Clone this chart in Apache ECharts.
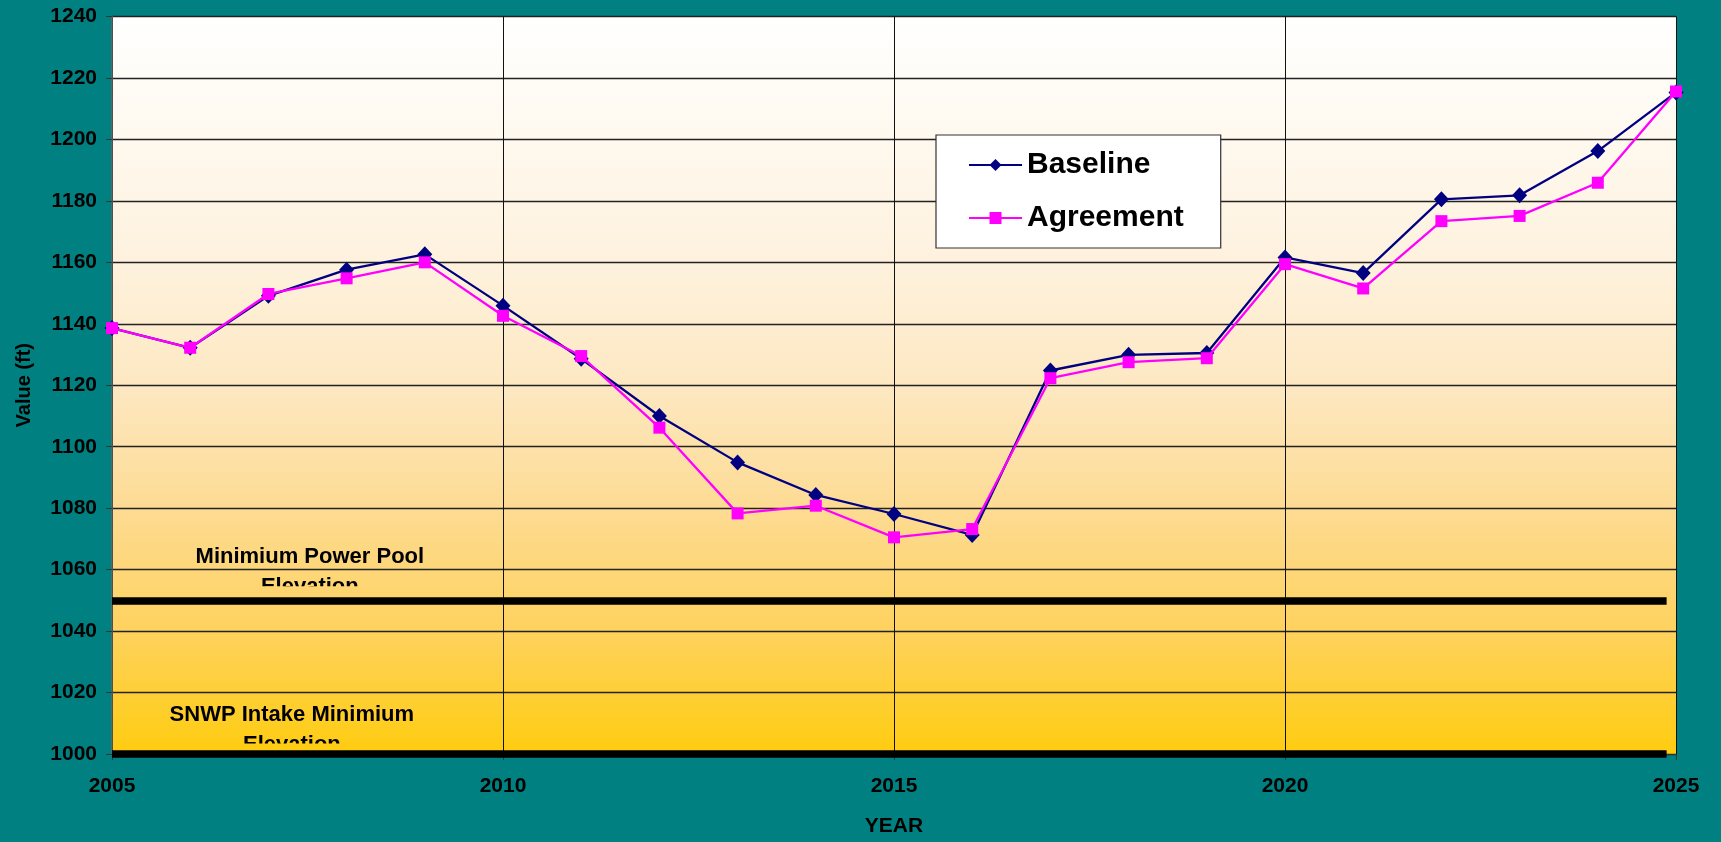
<!DOCTYPE html>
<html>
<head>
<meta charset="utf-8">
<script src="https://cdn.jsdelivr.net/npm/echarts@6/dist/echarts.min.js"></script>
<style>
html,body{margin:0;padding:0;background:#008080;}
#c{width:1721px;height:842px;}
</style>
</head>
<body>
<div id="c"></div>
<script>
var years = [2005,2006,2007,2008,2009,2010,2011,2012,2013,2014,2015,2016,2017,2018,2019,2020,2021,2022,2023,2024,2025];
var baseline = [1138.6,1132.2,1149.1,1157.6,1162.6,1145.9,1128.6,1110.0,1094.9,1084.3,1078.1,1071.3,1124.8,1129.9,1130.5,1161.6,1156.5,1180.5,1181.8,1196.2,1215.3];
var agreement = [1138.6,1132.2,1149.7,1154.8,1160.0,1142.6,1129.5,1106.2,1078.3,1080.8,1070.5,1073.2,1122.3,1127.5,1128.8,1159.4,1151.5,1173.4,1175.1,1185.9,1215.6];
var seriesNames = ['Baseline','Agreement'];
var minPowerPool = 1050;
var snwpIntakeMin = 1000;
var noteTexts = ['Minimium Power Pool\nElevation','SNWP Intake Minimium\nElevation'];
var xTicks = {min:2005, max:2025, step:5};
var yTicks = {min:1000, max:1240, step:20};

function pairs(xs, ys){ return xs.map(function(x,i){ return [x, ys[i]]; }); }
function plain(v){ return String(v); }

var FONT = '"Liberation Sans", Arial, Helvetica, sans-serif';
var chart = echarts.init(document.getElementById('c'));
chart.setOption({
  backgroundColor:'#008080',
  animation:false,
  textStyle:{fontFamily:FONT},
  grid:{left:112, right:45, top:16.5, bottom:86, show:true, borderWidth:0,
    backgroundColor:{type:'linear',x:0,y:0,x2:0,y2:1,colorStops:[
      {offset:0,color:'#ffffff'},{offset:0.33,color:'#fef2de'},{offset:0.5,color:'#fde8c2'},
      {offset:0.667,color:'#fddb93'},{offset:0.833,color:'#fed25e'},{offset:1,color:'#ffcc0f'}]}},
  legend:{
    data:seriesNames, orient:'vertical', left:936, top:135,
    padding:[14,37,14,32], itemGap:21, itemWidth:53, itemHeight:15, itemTextGap:11,
    backgroundColor:'#ffffff', borderColor:'#333333', borderWidth:1.2,
    textStyle:{fontSize:30, fontWeight:'bold', color:'#000', lineHeight:32, fontFamily:FONT}
  },
  xAxis:{
    type:'value', min:xTicks.min, max:xTicks.max, interval:xTicks.step,
    name:'YEAR', nameLocation:'middle', nameGap:62,
    nameTextStyle:{fontSize:21, fontWeight:'bold', color:'#000', fontFamily:FONT},
    axisLine:{show:true, lineStyle:{color:'#333', width:1}},
    axisTick:{show:true, length:6, lineStyle:{color:'#333'}},
    axisLabel:{fontSize:21, fontWeight:'bold', color:'#000', margin:22, fontFamily:FONT, formatter:plain},
    splitLine:{show:true, lineStyle:{color:'#111111', width:1}}
  },
  yAxis:{
    type:'value', min:yTicks.min, max:yTicks.max, interval:yTicks.step,
    name:'Value (ft)', nameLocation:'middle', nameGap:78, nameRotate:90,
    nameTextStyle:{fontSize:20, fontWeight:'bold', color:'#000', fontFamily:FONT},
    axisLine:{show:true, lineStyle:{color:'#666', width:1.5}},
    axisTick:{show:true, length:6, lineStyle:{color:'#333'}},
    axisLabel:{fontSize:21, fontWeight:'bold', color:'#000', margin:15, fontFamily:FONT, formatter:plain},
    splitLine:{show:true, lineStyle:{color:'#222222', width:1.3}}
  },
  series:[
    {
      type:'custom', name:'notes', silent:true, z:1,
      coordinateSystem:'cartesian2d',
      data:[[2007.53, 1069.1, 1054.6],[2007.30, 1017.5, 1003.4]],
      renderItem:function(params, api){
        var p = api.coord([api.value(0), api.value(1)]);
        var c = api.coord([api.value(0), api.value(2)]);
        return {
          type:'text', x:p[0], y:p[1],
          style:{text:noteTexts[params.dataIndex], fill:'#000',
            font:'bold 22px '+FONT, align:'center', verticalAlign:'top', lineHeight:30},
          clipPath:{type:'rect', shape:{x:-400, y:-10, width:800, height:c[1]-p[1]+10}}
        };
      }
    },
    {
      type:'line', name:seriesNames[0], data:pairs(years, baseline), z:3, clip:false,
      symbol:'diamond', symbolSize:[15,16], showSymbol:true,
      lineStyle:{color:'#000080', width:2.3}, itemStyle:{color:'#000080'},
      markLine:{silent:true, symbol:'none', label:{show:false},
        lineStyle:{color:'#000', width:7.5, type:'solid'},
        data:[
          [{coord:[2005, minPowerPool]},{coord:[2024.88, minPowerPool]}],
          [{coord:[2005, snwpIntakeMin]},{coord:[2024.88, snwpIntakeMin]}]
        ]}
    },
    {
      type:'line', name:seriesNames[1], data:pairs(years, agreement), z:4,
      symbol:'rect', symbolSize:12, showSymbol:true,
      lineStyle:{color:'#ff00ff', width:2.3}, itemStyle:{color:'#ff00ff'}
    }
  ]
});
</script>
</body>
</html>
